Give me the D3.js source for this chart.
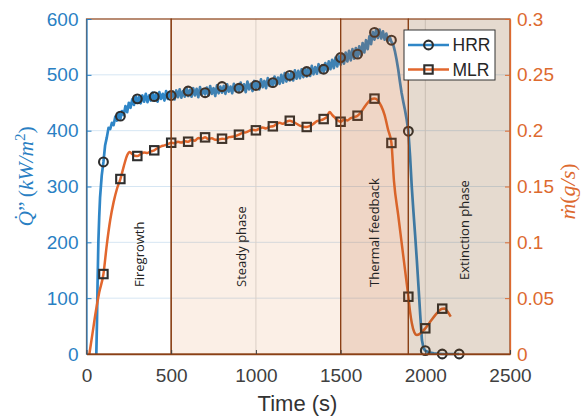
<!DOCTYPE html>
<html>
<head>
<meta charset="utf-8">
<script src="https://cdn.jsdelivr.net/npm/d3@7"></script>
<style>
  body { margin: 0; background: #fff; }
  svg { display: block; }
</style>
</head>
<body>
<svg id="chart" width="582" height="419"></svg>
<script>
// ---- Data -------------------------------------------------------------
// Heat release rate per unit area, kW/m² : [time (s), value]
const hrrCurve = [
  [58,0],[62,60],[65,120],[70,200],[75,245],[80,280],[90,320],[100,344],[110,374],[120,388],
  [130,405],[140,403],[150,414],[160,410],[170,425],[180,418],[190,432],[200,421],[210,435],[220,428],
  [230,444],[240,433],[250,450],[260,441],[270,456],[280,446],[290,462],[300,450],[310,461],[320,449],
  [330,463],[340,452],[350,466],[360,451],[370,463],[380,454],[390,468],[400,455],[410,465],[420,452],
  [430,469],[440,457],[450,466],[460,454],[470,471],[480,457],[490,468],[500,458],[510,470],[520,456],
  [530,472],[540,460],[550,474],[560,459],[570,471],[580,461],[590,477],[600,462],[610,473],[620,461],
  [630,476],[640,463],[650,475],[660,460],[670,478],[680,464],[690,474],[700,465],[710,477],[720,463],
  [730,480],[740,466],[750,476],[760,462],[770,481],[780,467],[790,479],[800,468],[810,480],[820,466],
  [830,483],[840,470],[850,479],[860,467],[870,484],[880,471],[890,481],[900,470],[910,486],[920,472],
  [930,483],[940,469],[950,488],[960,474],[970,484],[980,471],[990,489],[1000,476],[1010,487],[1020,474],
  [1030,492],[1040,478],[1050,489],[1060,476],[1070,494],[1080,480],[1090,491],[1100,479],[1110,497],[1120,483],
  [1130,495],[1140,484],[1150,500],[1160,486],[1170,503],[1180,488],[1190,502],[1200,490],[1210,505],[1220,490],
  [1230,508],[1240,493],[1250,507],[1260,494],[1270,510],[1280,496],[1290,512],[1300,497],[1310,512],[1320,498],
  [1330,516],[1340,501],[1350,514],[1360,502],[1370,519],[1380,504],[1390,517],[1400,505],[1410,521],[1420,507],
  [1430,524],[1440,510],[1450,527],[1460,512],[1470,531],[1480,515],[1490,533],[1500,518],[1510,537],[1520,520],
  [1530,540],[1540,524],[1550,543],[1560,526],[1570,546],[1580,529],[1590,548],[1600,531],[1610,551],[1620,535],
  [1630,557],[1640,540],[1650,562],[1660,546],[1670,569],[1680,555],[1690,577],[1700,563],[1710,582],[1720,566],
  [1730,581],[1740,565],[1750,578],[1760,563],[1770,574],[1780,560],[1790,568],[1800,559],[1810,555],[1820,543],
  [1830,528],[1840,510],[1850,488],[1860,468],[1870,452],[1880,437],[1890,420],[1900,399],[1910,355],[1920,300],
  [1930,255],[1940,213],[1950,168],[1960,120],[1970,70],[1980,25],[1990,10],[2000,6],[2020,3],[2050,1],
  [2100,0],[2200,0]
];

// Mass loss rate, g/s : [time (s), value]
const mlrCurve = [
  [17,0],[35,0.018],[55,0.038],[75,0.055],[100,0.0716],[120,0.098],[140,0.12],[160,0.136],[180,0.148],
  [200,0.1567],[220,0.168],[240,0.178],[255,0.181],[270,0.179],[285,0.1775],[300,0.1773],[320,0.179],[340,0.1805],[360,0.18],
  [380,0.1815],[400,0.1824],[420,0.1845],[440,0.186],[460,0.1868],[480,0.188],[500,0.1892],[520,0.1888],[540,0.19],[560,0.1893],
  [580,0.1905],[600,0.1901],[620,0.1918],[640,0.191],[660,0.1935],[680,0.1928],[700,0.194],[720,0.1925],[740,0.1932],[760,0.1918],
  [780,0.192],[800,0.1928],[820,0.1925],[840,0.1942],[860,0.1945],[880,0.1952],[900,0.1964],[920,0.198],[940,0.1985],[960,0.1998],
  [980,0.2008],[1000,0.2003],[1020,0.2018],[1040,0.2028],[1060,0.202],[1080,0.2035],[1100,0.2039],[1120,0.2058],[1140,0.207],[1160,0.2062],
  [1180,0.208],[1200,0.2089],[1220,0.2078],[1240,0.2062],[1260,0.2045],[1280,0.2035],[1300,0.2033],[1320,0.2042],[1340,0.2062],[1360,0.2085],
  [1380,0.2092],[1400,0.2104],[1420,0.2125],[1435,0.2168],[1450,0.2142],[1465,0.2118],[1480,0.2095],[1500,0.208],[1520,0.2098],[1540,0.2092],
  [1560,0.2112],[1580,0.2122],[1600,0.2134],[1620,0.2165],[1640,0.221],[1660,0.225],[1680,0.228],[1700,0.2287],[1720,0.227],[1740,0.222],
  [1760,0.214],[1780,0.201],[1800,0.189],[1815,0.155],[1840,0.1245],[1870,0.0878],[1900,0.0513],[1910,0.038],[1920,0.028],[1935,0.0195],
  [1950,0.017],[1965,0.0178],[1980,0.0198],[2000,0.023],[2030,0.029],[2060,0.035],[2090,0.0398],[2100,0.0406],[2115,0.0408],[2130,0.0382],
  [2150,0.0334]
];

// Marker samples every 100 s
const hrrMarkerTime  = [100,200,300,400,500,600,700,800,900,1000,1100,1200,1300,1400,1500,1600,1700,1800,1900,2000,2100,2200];
const hrrMarkerValue = [344,426,457,461,463,471,468,479,476,481,486,499,506,510,531,537,576,562,399,6,0,0];
const mlrMarkerTime  = [100,200,300,400,500,600,700,800,900,1000,1100,1200,1300,1400,1500,1600,1700,1800,1900,2000,2100];
const mlrMarkerValue = [0.0716,0.1567,0.1773,0.1824,0.1892,0.1901,0.194,0.1928,0.1964,0.2003,0.2039,0.2089,0.2033,0.2104,0.208,0.2134,0.2287,0.189,0.0513,0.023,0.0406];

// Combustion phases
const phaseNames = ["Firegrowth", "Steady phase", "Thermal feedback", "Extinction phase"];
const phaseStart = [0, 500, 1500, 1900];
const phaseEnd   = [500, 1500, 1900, 2500];

// Axis ticks
const timeTicks = [0, 500, 1000, 1500, 2000, 2500];
const hrrTicks  = [0, 100, 200, 300, 400, 500, 600];
const mlrTicks  = [0, 0.05, 0.1, 0.15, 0.2, 0.25, 0.3];

// ---- Layout & styles ----------------------------------------------------
const plot = { left: 86.5, right: 510, top: 19, bottom: 354 };
const blue = "#2f86c7", blueText = "#2a7fc3";
const orange = "#e2672e", orangeText = "#dd6a2f";
const edgeBrown = "#8a4016";
const phaseFill    = [null, "#d75f05", "#bf5b1b", "#7d460f"];
const phaseOpacity = [0, 0.1, 0.25, 0.2];

const svg = d3.select("#chart");
const x  = d3.scaleLinear().domain([0, 2500]).range([plot.left, plot.right]);
const yL = d3.scaleLinear().domain([0, 600]).range([plot.bottom, plot.top]);
const yR = d3.scaleLinear().domain([0, 0.3]).range([plot.bottom, plot.top]);

// Grid
const grid = svg.append("g");
grid.selectAll("line.h").data(hrrTicks.slice(1, -1)).join("line")
  .attr("x1", plot.left).attr("x2", plot.right)
  .attr("y1", d => yL(d)).attr("y2", d => yL(d))
  .attr("stroke", "#d6e6f3").attr("stroke-width", 1);
grid.selectAll("line.v").data(timeTicks.slice(1, -1)).join("line")
  .attr("y1", plot.top).attr("y2", plot.bottom)
  .attr("x1", d => x(d)).attr("x2", d => x(d))
  .attr("stroke", "#dcdcdc").attr("stroke-width", 1);

// Data lines
const hrrLine = d3.line().x(d => x(d[0])).y(d => yL(d[1]));
const mlrLine = d3.line().x(d => x(d[0])).y(d => yR(d[1])).curve(d3.curveMonotoneX);

svg.append("path").datum(hrrCurve).attr("d", hrrLine)
  .attr("fill", "none").attr("stroke", blue).attr("stroke-width", 2.7)
  .attr("stroke-linejoin", "round");
svg.append("path").datum(mlrCurve).attr("d", mlrLine)
  .attr("fill", "none").attr("stroke", orange).attr("stroke-width", 2.5)
  .attr("stroke-linejoin", "round");

// Markers
const markerStroke = "#2e2e2e";
svg.append("g").selectAll("circle").data(hrrMarkerTime).join("circle")
  .attr("cx", d => x(d)).attr("cy", (d, i) => yL(hrrMarkerValue[i]))
  .attr("r", 4.4).attr("fill", "none")
  .attr("stroke", markerStroke).attr("stroke-width", 2.1);
svg.append("g").selectAll("rect").data(mlrMarkerTime).join("rect")
  .attr("x", d => x(d) - 4.2).attr("y", (d, i) => yR(mlrMarkerValue[i]) - 4.2)
  .attr("width", 8.4).attr("height", 8.4).attr("fill", "none")
  .attr("stroke", markerStroke).attr("stroke-width", 2.1);

// Phase patches (translucent, over the data)
svg.append("g").selectAll("rect").data(phaseNames).join("rect")
  .attr("x", (d, i) => x(phaseStart[i])).attr("y", plot.top)
  .attr("width", (d, i) => x(phaseEnd[i]) - x(phaseStart[i]))
  .attr("height", plot.bottom - plot.top)
  .attr("fill", (d, i) => phaseFill[i] || "none")
  .attr("fill-opacity", (d, i) => phaseOpacity[i])
  .attr("stroke", edgeBrown).attr("stroke-width", 1.2);

// Phase labels
const phaseLabelX = [143.5, 246, 379, 469];
const phaseLabelY = [287, 287, 287, 280];
svg.append("g").selectAll("text").data(phaseNames).join("text")
  .attr("transform", (d, i) => `translate(${phaseLabelX[i]},${phaseLabelY[i]}) rotate(-90)`)
  .attr("font-family", "'Open Sans', sans-serif").attr("font-size", 13)
  .attr("fill", "#222").text(d => d);

// Axes
const tickFont = "'Liberation Sans', Arial, sans-serif";
function styleAxis(g, color) {
  g.select(".domain").attr("stroke", color).attr("stroke-width", 1.3);
  g.selectAll(".tick line").attr("stroke", color).attr("stroke-width", 1);
  g.selectAll(".tick text").attr("fill", color)
    .attr("font-family", tickFont).attr("font-size", 19);
}
const axL = svg.append("g").attr("transform", `translate(${plot.left},0)`)
  .call(d3.axisLeft(yL).tickValues(hrrTicks).tickFormat(d3.format("d"))
        .tickSizeInner(-5).tickSizeOuter(0).tickPadding(8));
styleAxis(axL, blueText);
axL.select(".domain").attr("stroke", blue);

const axR = svg.append("g").attr("transform", `translate(${plot.right},0)`)
  .call(d3.axisRight(yR).tickValues(mlrTicks).tickFormat(d3.format("~g"))
        .tickSizeInner(-5).tickSizeOuter(0).tickPadding(7));
styleAxis(axR, orangeText);

const axB = svg.append("g").attr("transform", `translate(0,${plot.bottom})`)
  .call(d3.axisBottom(x).tickValues(timeTicks).tickFormat(d3.format("d"))
        .tickSizeInner(-4).tickSizeOuter(0).tickPadding(15));
styleAxis(axB, "#404040");
axB.select(".domain").attr("stroke", edgeBrown);

// Axis titles
svg.append("text").attr("x", 297.5).attr("y", 411).attr("text-anchor", "middle")
  .attr("font-family", tickFont).attr("font-size", 22).attr("fill", "#333")
  .text("Time (s)");

const serif = "'Liberation Serif', 'Times New Roman', serif";
const qLabel = svg.append("text")
  .attr("transform", `translate(33,${(plot.top + plot.bottom) / 2 - 10}) rotate(-90)`)
  .attr("text-anchor", "middle").attr("font-family", serif).attr("font-size", 21.5)
  .attr("fill", blueText);
qLabel.append("tspan").attr("font-style", "italic").text("Q\u0307");
qLabel.append("tspan").text("\u201D\u2009(");
qLabel.append("tspan").attr("font-style", "italic").text("kW/m");
qLabel.append("tspan").attr("font-size", 15).attr("dy", -8).text("2");
qLabel.append("tspan").attr("dy", 8).text(")");

const mLabel = svg.append("text")
  .attr("transform", `translate(575,${(plot.top + plot.bottom) / 2 + 5}) rotate(-90)`)
  .attr("text-anchor", "middle").attr("font-family", serif).attr("font-size", 22)
  .attr("fill", orangeText);
mLabel.append("tspan").attr("font-style", "italic").text("m\u0307");
mLabel.append("tspan").text("(");
mLabel.append("tspan").attr("font-style", "italic").text("g/s");
mLabel.append("tspan").text(")");

// Legend
const legend = svg.append("g");
legend.append("rect").attr("x", 404).attr("y", 30).attr("width", 91).attr("height", 50)
  .attr("fill", "#fff").attr("stroke", "#333").attr("stroke-width", 1);
const legendItems = [
  { name: "HRR", color: blue, shape: "circle", y: 45 },
  { name: "MLR", color: orange, shape: "square", y: 69.5 }
];
legendItems.forEach(it => {
  legend.append("line").attr("x1", 408).attr("x2", 449).attr("y1", it.y).attr("y2", it.y)
    .attr("stroke", it.color).attr("stroke-width", 2.4);
  if (it.shape === "circle") {
    legend.append("circle").attr("cx", 428.5).attr("cy", it.y).attr("r", 4.4)
      .attr("fill", "none").attr("stroke", markerStroke).attr("stroke-width", 2.1);
  } else {
    legend.append("rect").attr("x", 424.3).attr("y", it.y - 4.2).attr("width", 8.4).attr("height", 8.4)
      .attr("fill", "none").attr("stroke", markerStroke).attr("stroke-width", 2.1);
  }
  legend.append("text").attr("x", 452.5).attr("y", it.y + 6.4)
    .attr("font-family", tickFont).attr("font-size", 17.5).attr("fill", "#262626")
    .text(it.name);
});
</script>
</body>
</html>
